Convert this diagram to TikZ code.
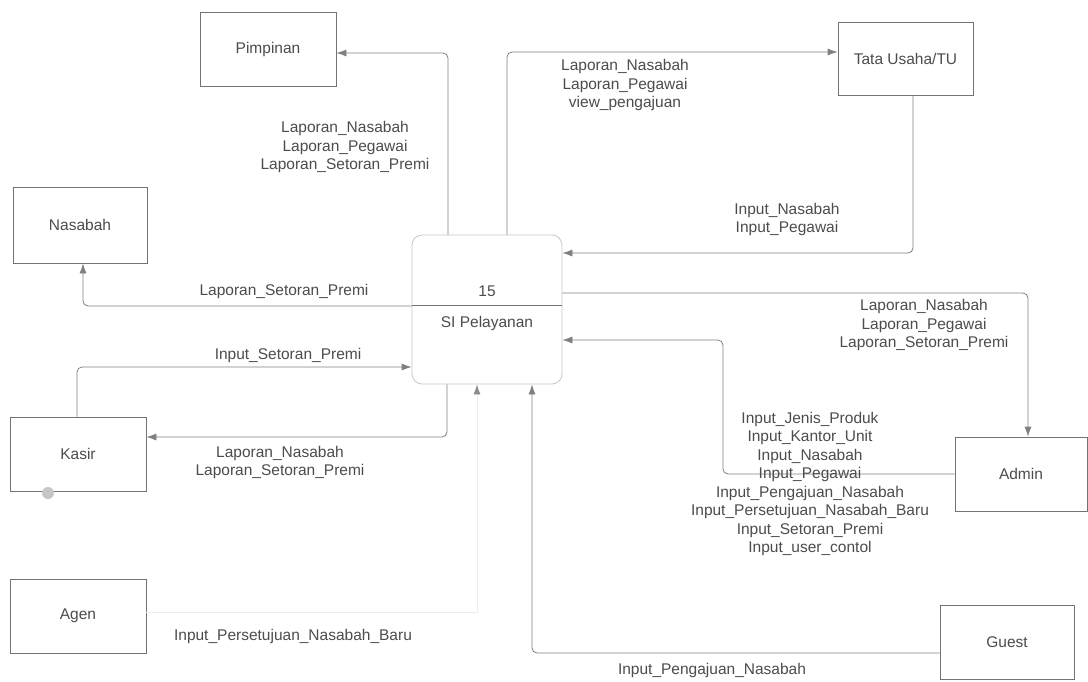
\documentclass[tikz,border=0pt]{standalone}
\usepackage{fontspec}
\setmainfont{Liberation Sans}
\usetikzlibrary{arrows.meta}

\tikzset{
  every node/.style={font=\fontsize{15.5}{18.5}\selectfont, text=black!70},
  ent/.style={draw=black!55, line width=0.8pt, inner sep=0pt, minimum width=135pt, minimum height=74pt},
  procbox/.style={draw=black!22, line width=0.8pt, rounded corners=10pt, inner sep=0pt, minimum width=150pt, minimum height=149pt},
  flow/.style={draw=black!50, line width=0.8pt, rounded corners=5pt, -{Latex[length=10pt,width=7pt]}},
  faintflow/.style={draw=black!7, line width=0.8pt, -{Latex[length=10pt,width=7pt,color=black!45]}},
  lbl/.style={align=center, inner sep=0pt}
}

\begin{document}
\begin{tikzpicture}[x=1pt, y=-1pt]
  \useasboundingbox[fill=white] (0,0) rectangle (1088,681);

  % external entities
  \node[ent, minimum width=136pt] (pim) at (268,49) {Pimpinan};
  \node[ent, minimum height=73pt] (tu) at (905.5,58.5) {Tata Usaha/TU};
  \node[ent, minimum width=134pt, minimum height=76pt] (nas) at (80,225) {Nasabah};
  \node[ent, minimum width=136pt] (kas) at (78,454) {Kasir};
  \node[ent, minimum width=136pt] (agen) at (78,616) {Agen};
  \node[ent, minimum width=132pt] (adm) at (1021,474) {Admin};
  \node[ent, minimum width=134pt] (guest) at (1007,642) {Guest};

  % process
  \node[procbox] (proc) at (487,309.5) {};
  \coordinate (procDiv) at (487,305);
  \draw[black!55, line width=0.8pt] (proc.west |- procDiv) -- (proc.east |- procDiv);
  \node (procNum) at (487,291) {15};
  \node (procName) at (487,323) {SI Pelayanan};

  % bend points of the flows
  \coordinate (pimBend) at (448,53);
  \coordinate (tuBend) at (507,52);
  \coordinate (tuBack) at (913,253);
  \coordinate (nasBend) at (83,306);
  \coordinate (kasUp) at (77,367);
  \coordinate (kasDown) at (447,437);
  \coordinate (admBend) at (1028,293);
  \coordinate (admA) at (723,474);
  \coordinate (admB) at (723,340);
  \coordinate (agenBend) at (477,612);
  \coordinate (guestBend) at (532,653);

  % data flows
  \draw[flow] (proc.north -| pimBend) |- (pim.east |- pimBend);
  \draw[flow] (proc.north -| tuBend) |- (tu.west |- tuBend);
  \draw[flow] (tu.south -| tuBack) |- (proc.east |- tuBack);
  \draw[flow] (proc.west |- nasBend) -| (nas.south -| nasBend);
  \draw[flow] (kas.north -| kasUp) |- (proc.west |- kasUp);
  \draw[flow] (proc.south -| kasDown) |- (kas.east |- kasDown);
  \draw[flow] (proc.east |- admBend) -| (adm.north -| admBend);
  \draw[flow] (adm.west |- admA) -- (admA) |- (proc.east |- admB);
  \draw[faintflow] (agen.east |- agenBend) -| (proc.south -| agenBend);
  \draw[flow] (guest.west |- guestBend) -| (proc.south -| guestBend);

  % flow labels
  \node[lbl] (lPim) at (345,147) {Laporan\_Nasabah\\Laporan\_Pegawai\\Laporan\_Setoran\_Premi};
  \node[lbl] (lTu) at (625,85) {Laporan\_Nasabah\\Laporan\_Pegawai\\view\_pengajuan};
  \node[lbl] (lTuBack) at (787,219.5) {Input\_Nasabah\\Input\_Pegawai};
  \node[lbl] (lNas) at (284,291) {Laporan\_Setoran\_Premi};
  \node[lbl] (lKasUp) at (288,355) {Input\_Setoran\_Premi};
  \node[lbl] (lKasDown) at (280,462.5) {Laporan\_Nasabah\\Laporan\_Setoran\_Premi};
  \node[lbl] (lAdm) at (924,325) {Laporan\_Nasabah\\Laporan\_Pegawai\\Laporan\_Setoran\_Premi};
  \node[lbl] (lAdmIn) at (810,484) {Input\_Jenis\_Produk\\Input\_Kantor\_Unit\\Input\_Nasabah\\Input\_Pegawai\\Input\_Pengajuan\_Nasabah\\Input\_Persetujuan\_Nasabah\_Baru\\Input\_Setoran\_Premi\\Input\_user\_contol};
  \node[lbl] (lAgen) at (293,636) {Input\_Persetujuan\_Nasabah\_Baru};
  \node[lbl] (lGuest) at (712,670) {Input\_Pengajuan\_Nasabah};

  % grey dot at the foot of the Kasir box
  \fill[black!22] (48,493) circle (6);
\end{tikzpicture}
\end{document}
